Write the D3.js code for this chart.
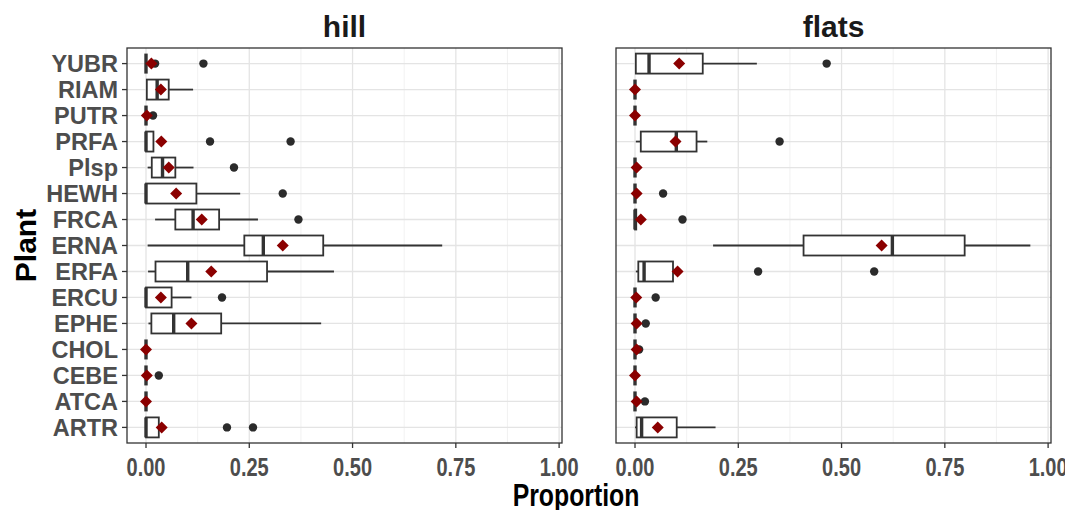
<!DOCTYPE html>
<html>
<head>
<meta charset="utf-8">
<script src="https://cdn.jsdelivr.net/npm/d3@7"></script>
<style>
    body { margin: 0; background: #fff; }
    .ylab { font-family: "Liberation Sans", Arial, sans-serif; font-weight: bold; }
    .xlab { font-family: "Liberation Sans", Arial, sans-serif; font-weight: bold; }
</style>
</head>
<body>
<div id="chart"></div>
<script>
// categories, bottom to top as ggplot lays them out
let plants = ["ARTR", "ATCA", "CEBE", "CHOL", "EPHE", "ERCU", "ERFA", "ERNA", "FRCA", "HEWH", "Plsp", "PRFA", "PUTR", "RIAM", "YUBR"];
let panels = ["hill", "flats"];
let xTicks = [0, 0.25, 0.5, 0.75, 1];
let xMinor = [0.125, 0.375, 0.625, 0.875];

// hill
let hillLow   = [0,     0, 0,     0, 0.006, 0,     0.005, 0.004, 0.022, 0,     0.004, 0,     0,     0.002, 0];
let hillQ1    = [0,     0, 0,     0, 0.013, 0,     0.023, 0.238, 0.071, 0,     0.014, 0,     0,     0.002, 0];
let hillMed   = [0,     0, 0,     0, 0.067, 0,     0.101, 0.284, 0.114, 0,     0.040, 0,     0,     0.027, 0];
let hillQ3    = [0.031, 0, 0,     0, 0.182, 0.062, 0.293, 0.429, 0.177, 0.122, 0.071, 0.018, 0,     0.055, 0];
let hillHigh  = [0.031, 0, 0,     0, 0.424, 0.110, 0.455, 0.717, 0.271, 0.228, 0.115, 0.018, 0,     0.114, 0];
let hillMean  = [0.038, 0, 0.002, 0, 0.110, 0.036, 0.158, 0.331, 0.135, 0.073, 0.055, 0.037, 0.002, 0.036, 0.013];
let hillOut   = [[0.196, 0.259], [], [0.031], [], [], [0.184], [], [], [0.369], [0.331], [0.213], [0.155, 0.350], [0.017], [], [0.022, 0.139]];

// flats
let flatsLow  = [0,     0,     0, 0,     0,     0,     0.002, 0.189, 0,     0,     0,     0.002, 0, 0, 0.002];
let flatsQ1   = [0.004, 0,     0, 0,     0,     0,     0.008, 0.408, 0,     0,     0,     0.014, 0, 0, 0.002];
let flatsMed  = [0.016, 0,     0, 0,     0,     0,     0.022, 0.623, 0,     0,     0,     0.100, 0, 0, 0.034];
let flatsQ3   = [0.101, 0,     0, 0,     0,     0,     0.092, 0.798, 0.003, 0,     0,     0.149, 0, 0, 0.164];
let flatsHigh = [0.195, 0,     0, 0,     0,     0,     0.092, 0.957, 0.003, 0,     0,     0.175, 0, 0, 0.295];
let flatsMean = [0.055, 0.004, 0, 0.004, 0.004, 0.003, 0.103, 0.597, 0.014, 0.004, 0.004, 0.098, 0, 0, 0.107];
let flatsOut  = [[], [0.024], [], [0.010], [0.026], [0.050], [0.298, 0.579], [], [0.115], [0.068], [], [0.350], [], [], [0.464]];

let W = 1065, H = 510;
let pTop = 48, pBottom = 443;
let panelX = [[127, 562], [616, 1051]];
let squeeze = 0.8; // x-axis text in the picture is horizontally condensed

let svg = d3.select("#chart").append("svg")
    .attr("width", W)
    .attr("height", H);

let y = d3.scalePoint()
    .domain(plants)
    .range([pBottom, pTop])
    .padding(0.6);

function drawPanel(idx, low, q1, med, q3, high, mean, outl) {
    let x0 = panelX[idx][0], x1 = panelX[idx][1];
    let x = d3.scaleLinear().domain([-0.046, 1.007]).range([x0, x1]);
    let g = svg.append("g");

    // grid
    g.selectAll(".minor").data(xMinor).enter().append("line")
        .attr("x1", d => x(d)).attr("x2", d => x(d))
        .attr("y1", pTop).attr("y2", pBottom)
        .attr("stroke", "#efefef").attr("stroke-width", 0.8);
    g.selectAll(".major").data(xTicks).enter().append("line")
        .attr("x1", d => x(d)).attr("x2", d => x(d))
        .attr("y1", pTop).attr("y2", pBottom)
        .attr("stroke", "#e4e4e4").attr("stroke-width", 1.3);
    g.selectAll(".hgrid").data(plants).enter().append("line")
        .attr("x1", x0).attr("x2", x1)
        .attr("y1", d => y(d)).attr("y2", d => y(d))
        .attr("stroke", "#e4e4e4").attr("stroke-width", 1.3);

    let rows = plants.map((p, i) => ({p: p, low: low[i], q1: q1[i], med: med[i], q3: q3[i], high: high[i], mean: mean[i], out: outl[i]}));
    let bh = 20;

    // whiskers
    rows.forEach(d => {
        if (d.low < d.q1) g.append("line")
            .attr("x1", x(d.low)).attr("x2", x(d.q1))
            .attr("y1", y(d.p)).attr("y2", y(d.p))
            .attr("stroke", "#333").attr("stroke-width", 1.8);
        if (d.high > d.q3) g.append("line")
            .attr("x1", x(d.q3)).attr("x2", x(d.high))
            .attr("y1", y(d.p)).attr("y2", y(d.p))
            .attr("stroke", "#333").attr("stroke-width", 1.8);
    });

    g.selectAll(".box").data(rows).enter().append("rect")
        .attr("x", d => x(d.q1))
        .attr("y", d => y(d.p) - bh / 2)
        .attr("width", d => x(d.q3) - x(d.q1))
        .attr("height", bh)
        .attr("fill", "#fff")
        .attr("stroke", "#333")
        .attr("stroke-width", 1.8);

    g.selectAll(".med").data(rows).enter().append("line")
        .attr("x1", d => x(d.med)).attr("x2", d => x(d.med))
        .attr("y1", d => y(d.p) - bh / 2).attr("y2", d => y(d.p) + bh / 2)
        .attr("stroke", "#333").attr("stroke-width", 3.4);

    let pts = [];
    rows.forEach(d => d.out.forEach(v => pts.push({p: d.p, v: v})));
    g.selectAll(".out").data(pts).enter().append("circle")
        .attr("cx", d => x(d.v)).attr("cy", d => y(d.p))
        .attr("r", 4.2)
        .attr("fill", "#2b2b2b");

    g.selectAll(".mean").data(rows).enter().append("path")
        .attr("d", "M0,-6L6,0L0,6L-6,0Z")
        .attr("transform", d => `translate(${x(d.mean)},${y(d.p)})`)
        .attr("fill", "#8b0000");

    // border
    g.append("rect")
        .attr("x", x0).attr("y", pTop)
        .attr("width", x1 - x0).attr("height", pBottom - pTop)
        .attr("fill", "none").attr("stroke", "#333").attr("stroke-width", 1.3);

    // x axis
    g.selectAll(".xt").data(xTicks).enter().append("line")
        .attr("x1", d => x(d)).attr("x2", d => x(d))
        .attr("y1", pBottom).attr("y2", pBottom + 5)
        .attr("stroke", "#333").attr("stroke-width", 1.3);
    g.selectAll(".xl").data(xTicks).enter().append("text")
        .attr("class", "xlab")
        .attr("transform", d => `translate(${x(d)},476) scale(${squeeze},1)`)
        .attr("text-anchor", "middle")
        .attr("font-size", 25)
        .attr("fill", "#4d4d4d")
        .text(d => d3.format(".2f")(d));

    // strip title
    g.append("text")
        .attr("class", "ylab")
        .attr("x", (x0 + x1) / 2).attr("y", 37)
        .attr("text-anchor", "middle")
        .attr("font-size", 30)
        .attr("fill", "#1a1a1a")
        .text(panels[idx]);

    if (idx === 0) {
        g.selectAll(".yt").data(plants).enter().append("line")
            .attr("x1", x0 - 5).attr("x2", x0)
            .attr("y1", d => y(d)).attr("y2", d => y(d))
            .attr("stroke", "#333").attr("stroke-width", 1.3);
        g.selectAll(".yl").data(plants).enter().append("text")
            .attr("class", "ylab")
            .attr("x", x0 - 9).attr("y", d => y(d))
            .attr("dy", "0.36em")
            .attr("text-anchor", "end")
            .attr("font-size", 23.5)
            .attr("fill", "#4d4d4d")
            .text(d => d);
    }
}

drawPanel(0, hillLow, hillQ1, hillMed, hillQ3, hillHigh, hillMean, hillOut);
drawPanel(1, flatsLow, flatsQ1, flatsMed, flatsQ3, flatsHigh, flatsMean, flatsOut);

// axis titles
svg.append("text")
    .attr("class", "xlab")
    .attr("transform", `translate(576,506) scale(${squeeze},1)`)
    .attr("text-anchor", "middle")
    .attr("font-size", 31)
    .attr("fill", "#000")
    .text("Proportion");

svg.append("text")
    .attr("class", "ylab")
    .attr("transform", `translate(36,${(pTop + pBottom) / 2}) rotate(-90)`)
    .attr("text-anchor", "middle")
    .attr("font-size", 30)
    .attr("fill", "#000")
    .text("Plant");
</script>
</body>
</html>
